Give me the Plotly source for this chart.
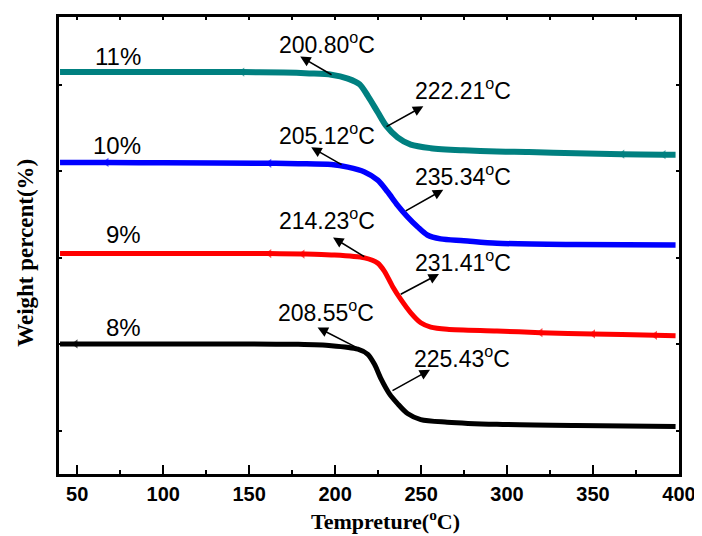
import plotly.graph_objects as go

# ---- data (y = stacked weight percent, arbitrary offset units) ----
x_11 = [40, 100, 146, 170, 185, 197.8, 207.4, 214.2, 219, 224.8, 229.6, 236.3, 244, 255.6, 274.8, 294.1, 312.6, 340, 367, 391, 398]
y_11 = [93.0, 93.0, 93.0, 92.9, 92.7, 92.4, 91.5, 90.2, 87.5, 83.7, 80.6, 77.9, 76.2, 75.4, 74.9, 74.6, 74.5, 74.2, 74.0, 73.9, 73.9]
m_11 = [146, 367, 391]

x_10 = [40, 67, 100, 161.7, 178.6, 197.8, 207.4, 217.1, 224.8, 230.5, 236.3, 242.1, 247.9, 253.6, 261.3, 274.8, 294.1, 340, 398]
y_10 = [72.1, 72.1, 72.0, 71.9, 71.8, 71.6, 71.0, 69.9, 68.0, 65.3, 62.2, 59.5, 57.2, 55.3, 54.4, 54.0, 53.4, 53.1, 53.0]
m_10 = [67, 161.7]

x_9 = [40, 100, 161.7, 181, 197.8, 217.1, 224.8, 228.7, 233.4, 238.2, 244.0, 249.8, 255.6, 265.2, 294.1, 319.4, 350, 386, 398]
y_9 = [51.0, 51.0, 51.0, 50.9, 50.7, 50.0, 48.8, 46.9, 43.4, 40.4, 37.3, 35.0, 34.0, 33.5, 33.1, 32.7, 32.4, 32.1, 32.0]
m_9 = [161.7, 181, 319.4, 350, 386]

x_8 = [40, 49, 100, 150, 178.6, 197.8, 213.2, 219.0, 222.9, 226.7, 231.5, 236.3, 242.1, 249.8, 265.2, 294.1, 340, 398]
y_8 = [30.1, 30.1, 30.1, 30.1, 30.0, 29.7, 28.9, 27.7, 25.4, 22.0, 18.6, 16.3, 14.0, 12.6, 12.0, 11.5, 11.2, 11.0]
m_8 = [49]

series_names = ["11%", "10%", "9%", "8%"]
series_x = [x_11, x_10, x_9, x_8]
series_y = [y_11, y_10, y_9, y_8]
series_m = [m_11, m_10, m_9, m_8]
colors = ["#008080", "#0000FF", "#FF0000", "#000000"]
widths = [6, 5.5, 5, 5]

# labels for the series (right edge x, centre y)
name_pos_x = [88.5, 88.5, 88.5, 88.5]
name_pos_y = [96.6, 76.1, 55.4, 34.0]

# temperature labels
temp_labels = ["200.80", "222.21", "205.12", "235.34", "214.23", "231.41", "208.55", "225.43"]
temp_lx = [195.5, 274.5, 195.0, 274.5, 195.0, 274.5, 194.5, 274.0]
temp_ly = [99.8, 89.2, 78.6, 69.2, 59.1, 49.4, 37.7, 27.1]
# arrows: tail (on the curve) -> head
arrow_tx = [198.8, 229.0, 204.6, 240.2, 217.8, 237.3, 213.8, 232.5]
arrow_ty = [92.2, 80.2, 71.4, 60.7, 50.1, 41.4, 29.0, 19.1]
arrow_hx = [179.7, 251.3, 186.1, 262.9, 198.8, 260.4, 189.8, 255.2]
arrow_hy = [96.6, 85.1, 75.6, 65.8, 54.7, 46.3, 33.9, 24.1]

x_ticks = [50, 100, 150, 200, 250, 300, 350, 400]
y_ticks = [10, 30, 50, 70, 90]

fig = go.Figure()
for nm, xs, ys, ms, c, w in zip(series_names, series_x, series_y, series_m, colors, widths):
    sizes = [8 if v in ms else 0 for v in xs]
    fig.add_trace(go.Scatter(
        x=xs, y=ys, name=nm, mode="lines+markers",
        line=dict(color=c, width=w, shape="spline", smoothing=0.8),
        marker=dict(symbol="triangle-left", size=sizes, color=c, line=dict(width=0)),
        showlegend=False, hoverinfo="skip",
    ))

annotations = []
for nm, px_, py_ in zip(series_names, name_pos_x, name_pos_y):
    annotations.append(dict(x=px_, y=py_, xref="x", yref="y", text=nm, showarrow=False,
                            xanchor="right", yanchor="middle",
                            font=dict(family="Liberation Sans", size=24, color="black")))
for t, lx, ly in zip(temp_labels, temp_lx, temp_ly):
    annotations.append(dict(x=lx, y=ly, xref="x", yref="y", text=t + "<sup>o</sup>C", showarrow=False,
                            xanchor="center", yanchor="middle",
                            font=dict(family="Liberation Sans", size=23, color="black")))
for tx, ty, hx, hy in zip(arrow_tx, arrow_ty, arrow_hx, arrow_hy):
    annotations.append(dict(x=hx, y=hy, ax=tx, ay=ty, xref="x", yref="y", axref="x", ayref="y",
                            text="", showarrow=True, arrowhead=2, arrowsize=1.3, arrowwidth=1.6,
                            arrowcolor="black", standoff=0, startstandoff=0))
# axis titles
annotations.append(dict(x=0.526, y=-0.100, xref="paper", yref="paper", showarrow=False,
                        text="Tempreture(<sup>o</sup>C)", xanchor="center", yanchor="middle",
                        font=dict(family="Liberation Serif", size=22, color="black", weight="bold")))
annotations.append(dict(x=-0.054, y=0.483, xref="paper", yref="paper", showarrow=False,
                        text="Weight percent(%)", textangle=-90, xanchor="center", yanchor="middle",
                        font=dict(family="Liberation Serif", size=23, color="black", weight="bold")))

# page body has an 8px margin, so the figure is shrunk and shifted to compensate
fig.update_layout(
    width=694, height=528,
    margin=dict(l=51, r=19, t=6, b=62),
    plot_bgcolor="white", paper_bgcolor="white",
    annotations=annotations,
    xaxis=dict(range=[39.4, 400], tickvals=x_ticks, ticks="inside", ticklen=9, tickwidth=2,
               tickcolor="black", showline=True, linewidth=2.5, linecolor="black", mirror=True,
               showgrid=False, zeroline=False,
               tickfont=dict(family="Liberation Sans", size=20, color="black", weight="bold"),
               minor=dict(dtick=25, tick0=25, ticks="inside", ticklen=4, tickwidth=2, tickcolor="black", showgrid=False)),
    xaxis2=dict(overlaying="x", side="top", range=[39.4, 400], dtick=25, tick0=25, ticks="inside",
                ticklen=3, tickwidth=2, tickcolor="black", showticklabels=False, showgrid=False,
                zeroline=False, showline=False),
    yaxis=dict(range=[0, 105.75], tickvals=y_ticks, ticks="inside", ticklen=3, tickwidth=2,
               tickcolor="black", showticklabels=False, showline=True, linewidth=2.5,
               linecolor="black", mirror="ticks", showgrid=False, zeroline=False),
)
fig.add_trace(go.Scatter(x=[], y=[], xaxis="x2", showlegend=False, hoverinfo="skip"))

fig.write_html("out.html")
